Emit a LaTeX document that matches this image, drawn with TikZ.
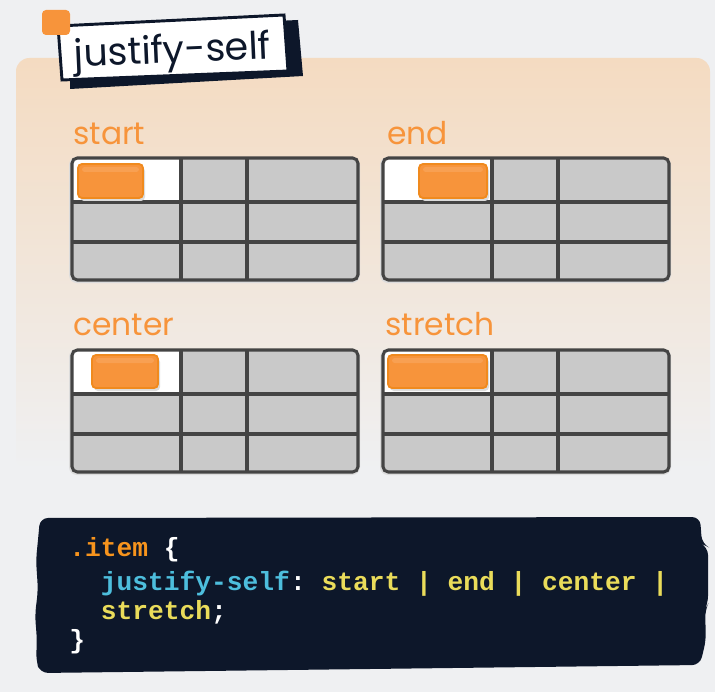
\documentclass[tikz,border=0pt]{standalone}
\usepackage{fontspec}
\setmainfont{Poppins}
\setmonofont{Liberation Mono}
\usetikzlibrary{calc}
\definecolor{pagebg}{HTML}{EFF0F2}
\definecolor{peach}{HTML}{F4DBC1}
\definecolor{cellgray}{HTML}{C9C9C9}
\definecolor{gridline}{HTML}{444444}
\definecolor{gridshadow}{HTML}{DCDCDC}
\definecolor{itemorange}{HTML}{F7943B}
\definecolor{itemedge}{HTML}{F08A1E}
\definecolor{itemlight}{HTML}{F8A052}
\definecolor{navy}{HTML}{0D172A}
\definecolor{codeorange}{HTML}{F7941D}
\definecolor{codecyan}{HTML}{4DBEDD}
\definecolor{codeyellow}{HTML}{EADC5A}
\def\selfgrid(#1,#2){%
	\begin{scope}[shift={(#1,#2)}]
		\fill[gridshadow, rounded corners=6] (-3,-1) rectangle (288,125);
		\fill[cellgray, rounded corners=4] (0,0) rectangle (286,122);
		\fill[white, rounded corners=4] (0,44) -- (0,0) -- (109,0) [sharp corners] -- (109,44) -- cycle;
		\draw[line width=2.3pt, color=gridline] (109,0) -- (109,122);
		\draw[line width=2.3pt, color=gridline] (175,0) -- (175,122);
		\draw[line width=2.3pt, color=gridline] (0,44) -- (286,44);
		\draw[line width=2.3pt, color=gridline] (0,84) -- (286,84);
		\draw[line width=2.3pt, color=gridline, rounded corners=4] (0,0) rectangle (286,122);
	\end{scope}}
\def\selfitem(#1,#2)(#3,#4){%
	\fill[gridshadow, rounded corners=3] ($(#1,#2)+(2,3)$) rectangle ($(#3,#4)+(2,3)$);
	\fill[itemorange, draw=itemedge, line width=1.4pt, rounded corners=3] (#1,#2) rectangle (#3,#4);
	\fill[itemlight, rounded corners=2] ($(#1,#2)+(4,3)$) rectangle ($(#3,#2)+(-4,8)$);}

\begin{document}
\begin{tikzpicture}[x=0.75pt, y=-0.75pt]
		%%%%% START %%%%%
		
		\fill[pagebg] (0,0) rectangle (715,692);
		\useasboundingbox (0,0) rectangle (715,692);
		
		\shade[top color=peach, bottom color=pagebg, rounded corners=10] (16,58) rectangle (710,470);
		
		% title
		\fill[navy] (70,30) -- (298,20) -- (303,76) -- (70,89) -- cycle;
		\draw[fill=white, draw=navy, line width=2.2pt] (58,26) -- (284,15) -- (288,71) -- (62,80) -- cycle;
		\fill[itemorange, rounded corners=3] (42,10) rectangle (70,35);
		\node[anchor=base, rotate=2.5, text=navy, font=\fontsize{28.5}{31}\selectfont] (title) at (173,63) {justify-self};
		
		% grids
		\selfgrid(72,158)
		\selfgrid(383,158)
		\selfgrid(72,350)
		\selfgrid(383,350)
		
		\selfitem(78,164)(143,198)
		\selfitem(419,164)(487,198)
		\selfitem(92,355)(158,388)
		\selfitem(388,355)(487,388)
		
		\node[anchor=base west, inner sep=0, text=itemorange, font=\fontsize{23.5}{26}\selectfont] (lblstart) at (73,145) {start};
		\node[anchor=base west, inner sep=0, text=itemorange, font=\fontsize{23.5}{26}\selectfont] (lblend) at (387,145) {end};
		\node[anchor=base west, inner sep=0, text=itemorange, font=\fontsize{23.5}{26}\selectfont] (lblcenter) at (73,335) {center};
		\node[anchor=base west, inner sep=0, text=itemorange, font=\fontsize{23.5}{26}\selectfont] (lblstretch) at (385,335) {stretch};
		
		% code block
		\fill[navy, rounded corners=6] (40,518) -- (700,517) -- (702,544) -- (708,547) -- (708,604) -- (705,610) -- (706,640) -- (700,665) -- (40,673) -- (36,660) -- (37,640) -- (35,615) -- (38,590) -- (36,560) -- (38,540) -- cycle;
		
		\node[anchor=base west, inner sep=0, font=\ttfamily\bfseries\fontsize{19.7}{22}\selectfont] (code1) at (69,556) {\color{codeorange}.item \color{white}\{};
		\node[anchor=base west, inner sep=0, font=\ttfamily\bfseries\fontsize{19.7}{22}\selectfont] (code2) at (100.6,590) {\color{codecyan}justify-self\color{white}: \color{codeyellow}start | end | center |};
		\node[anchor=base west, inner sep=0, font=\ttfamily\bfseries\fontsize{19.7}{22}\selectfont] (code3) at (100.6,619) {\color{codeyellow}stretch\color{white};};
		\node[anchor=base west, inner sep=0, font=\ttfamily\bfseries\fontsize{19.7}{22}\selectfont] (code4) at (69,648) {\color{white}\}};
		
		%%%%% END %%%%%
	\end{tikzpicture}
\end{document}
